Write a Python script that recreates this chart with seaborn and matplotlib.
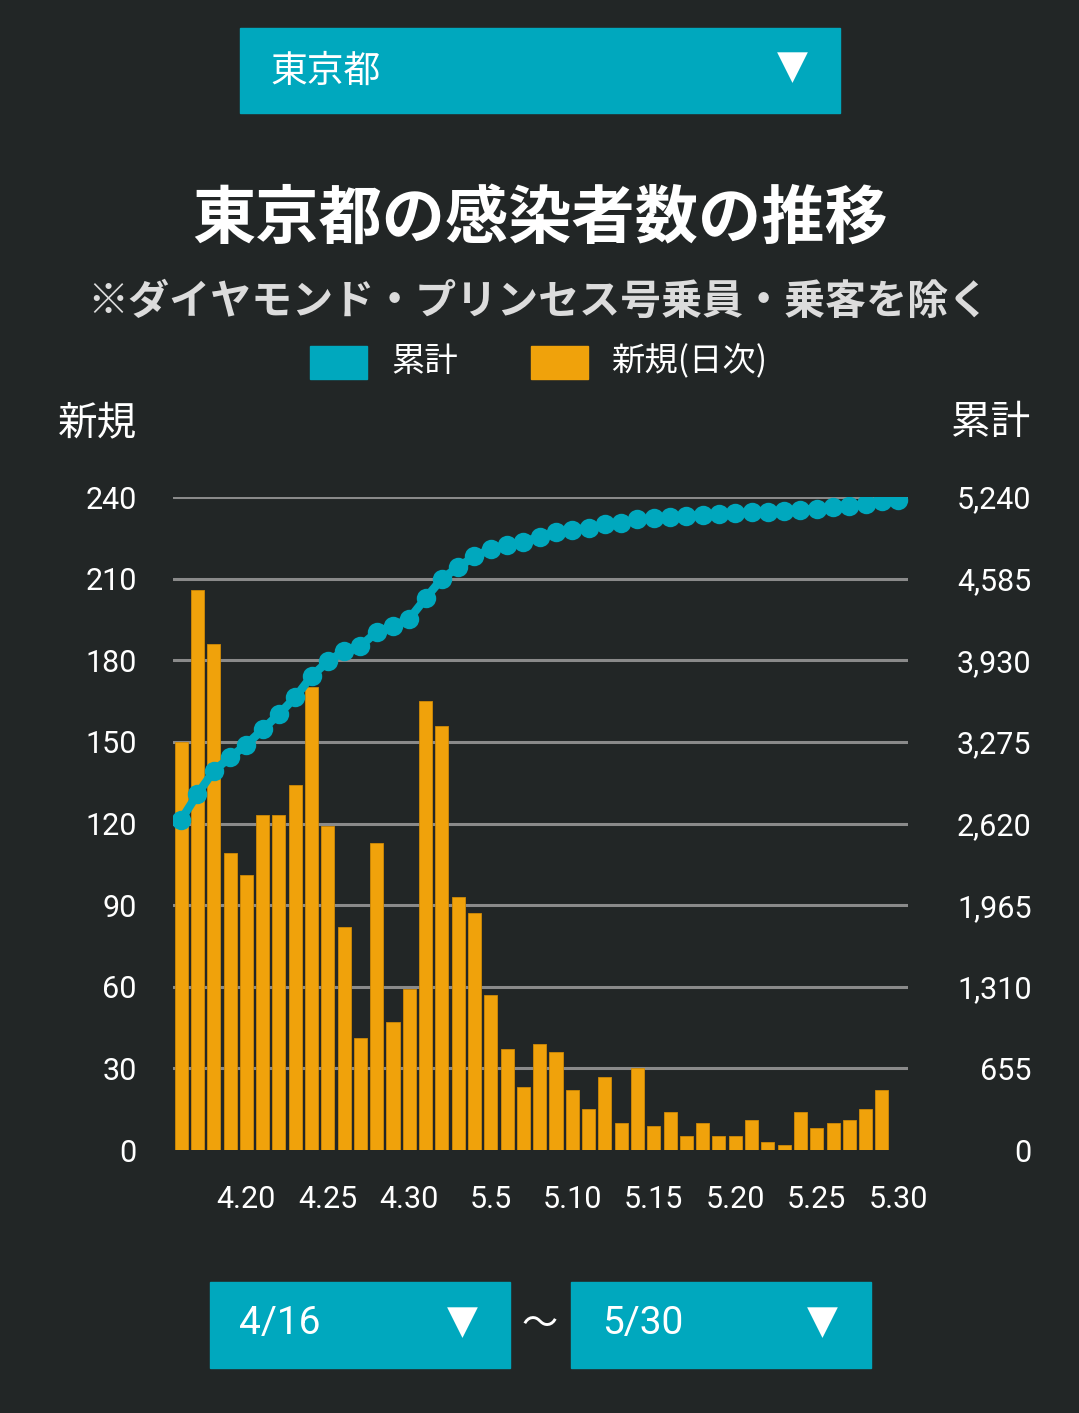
import numpy as np
import pandas as pd
import matplotlib
matplotlib.use("Agg")
import matplotlib.pyplot as plt
from matplotlib.patches import Rectangle
import seaborn as sns

# ---------------- data ----------------
dates = ["4.16", "4.17", "4.18", "4.19", "4.20", "4.21", "4.22", "4.23", "4.24", "4.25",
         "4.26", "4.27", "4.28", "4.29", "4.30", "5.1", "5.2", "5.3", "5.4", "5.5",
         "5.6", "5.7", "5.8", "5.9", "5.10", "5.11", "5.12", "5.13", "5.14", "5.15",
         "5.16", "5.17", "5.18", "5.19", "5.20", "5.21", "5.22", "5.23", "5.24", "5.25",
         "5.26", "5.27", "5.28", "5.29", "5.30"]
new_cases = [150, 206, 186, 109, 101, 123, 123, 134, 170, 119,
             82, 41, 113, 47, 59, 165, 156, 93, 87, 57,
             37, 23, 39, 36, 22, 15, 27, 10, 30, 9,
             14, 5, 10, 5, 5, 11, 3, 2, 14, 8,
             10, 11, 15, 22, 0]
cumulative = [2650, 2856, 3042, 3151, 3252, 3375, 3498, 3632, 3802, 3921,
              4003, 4044, 4157, 4204, 4263, 4428, 4584, 4677, 4764, 4821,
              4858, 4881, 4920, 4956, 4978, 4993, 5020, 5030, 5060, 5069,
              5083, 5088, 5098, 5103, 5108, 5119, 5122, 5124, 5138, 5146,
              5156, 5167, 5182, 5204, 5218]
left_ticks = [0, 30, 60, 90, 120, 150, 180, 210, 240]
right_ticks = [0, 655, 1310, 1965, 2620, 3275, 3930, 4585, 5240]
shown_dates = ["4.20", "4.25", "4.30", "5.5", "5.10", "5.15", "5.20", "5.25", "5.30"]
legend_labels = ["累計", "新規(日次)"]
start_label, end_label = "4/16", "5/30"
region = "東京都"
title = "東京都の感染者数の推移"
subtitle = "※ダイヤモンド・プリンセス号乗員・乗客を除く"

# ---------------- style ----------------
BG = "#222626"
TEAL = "#00A8BE"
ORANGE = "#F0A20B"
GRID = "#8a8a8a"
W, H = 1079, 1413

sns.set_theme(style="dark")
CJK = ["Noto Sans CJK JP", "DejaVu Sans"]
NUM = ["Roboto", "Noto Sans CJK JP", "DejaVu Sans"]
plt.rcParams["font.family"] = CJK

fig = plt.figure(figsize=(W / 100, H / 100), dpi=100)
fig.patch.set_facecolor(BG)


def fx(px):
    return px / W


def fy(py):
    return 1 - py / H


def box(x0, y0, x1, y1, color=TEAL):
    fig.patches.append(Rectangle((fx(x0), fy(y1)), fx(x1) - fx(x0), fy(y0) - fy(y1),
                                 transform=fig.transFigure, color=color, zorder=0))


# axes
ax_l, ax_r, ax_t, ax_b = 173, 908, 497, 1150
ax = fig.add_axes([fx(ax_l), fy(ax_b), fx(ax_r) - fx(ax_l), fy(ax_t) - fy(ax_b)])
ax.set_facecolor(BG)

df = pd.DataFrame({"date": dates, "new": new_cases, "cum": cumulative})
df["pos"] = np.arange(len(df))

sns.barplot(data=df, x="date", y="new", color=ORANGE, saturation=1, width=0.8,
            edgecolor="#d08a05", linewidth=0.6, ax=ax, zorder=2)
ax.set_xlim(-0.5, 44.6)
ax.set_ylim(0, 240)
ax.set_yticks(left_ticks)
ax.set_yticklabels([str(t) for t in left_ticks], family=NUM, fontsize=22,
                   color="white", fontweight="normal")
pos_map = {d: i for i, d in enumerate(dates)}
ax.set_xticks([pos_map[d] for d in shown_dates])
ax.set_xticklabels(shown_dates, family=NUM, fontsize=22, color="white", fontweight="normal")
ax.tick_params(axis="x", length=0, pad=25.5)
ax.tick_params(axis="y", length=0, pad=26)
ax.set_xlabel("")
ax.set_ylabel("")
ax.grid(False)
for t in left_ticks[1:]:
    ax.axhline(t, color=GRID, lw=2.2, zorder=1)
for s in ax.spines.values():
    s.set_visible(False)

ax2 = ax.twinx()
sns.lineplot(data=df, x="pos", y="cum", color=TEAL, lw=6, marker="o",
             markersize=14, markeredgewidth=0, ax=ax2, zorder=5)
ax2.set_ylim(0, 5240)
ax2.set_xlim(-0.5, 44.6)
ax2.set_yticks(right_ticks)
ax2.set_yticklabels([f"{t:,}" for t in right_ticks], family=NUM, fontsize=22,
                    color="white", fontweight="normal", ha="right")
ax2.tick_params(axis="y", length=0, pad=89)
ax2.set_xlabel("")
ax2.set_ylabel("")
ax2.grid(False)
for s in ax2.spines.values():
    s.set_visible(False)

# header drop-down
box(240, 28, 840, 113)
fig.text(fx(270), fy(71), region, fontsize=26.5, color="white", ha="left", va="center")
fig.text(fx(792), fy(67), "▼", fontsize=29, color="white", ha="center", va="center",
         family=["DejaVu Sans"])

# titles
fig.text(fx(540), fy(219), title, fontsize=45.5, fontweight="bold", color="white",
         ha="center", va="center")
fig.text(fx(538), fy(302), subtitle, fontsize=29.5, fontweight="bold", color="#dcdcdc",
         ha="center", va="center")

# legend
box(310, 346, 367, 379, TEAL)
fig.text(fx(391), fy(362), legend_labels[0], fontsize=24, color="white", ha="left", va="center")
box(531, 346, 588, 379, ORANGE)
fig.text(fx(611), fy(362), legend_labels[1], fontsize=24, color="white", ha="left", va="center")

# axis titles
fig.text(fx(98), fy(423), "新規", fontsize=28.5, color="white", ha="center", va="center")
fig.text(fx(991), fy(423), "累計", fontsize=28.5, color="white", ha="center", va="center")

# bottom range selectors
box(210, 1282, 510, 1368)
fig.text(fx(239), fy(1324), start_label, fontsize=28, color="white", ha="left", va="center",
         family=NUM)
fig.text(fx(462), fy(1322), "▼", fontsize=29, color="white", ha="center", va="center",
         family=["DejaVu Sans"])
fig.text(fx(540), fy(1325), "〜", fontsize=26, color="white", ha="center", va="center")
box(571, 1282, 871, 1368)
fig.text(fx(602), fy(1324), end_label, fontsize=28, color="white", ha="left", va="center",
         family=NUM)
fig.text(fx(822), fy(1322), "▼", fontsize=29, color="white", ha="center", va="center",
         family=["DejaVu Sans"])

fig.savefig("out.png", dpi=100, facecolor=BG)
